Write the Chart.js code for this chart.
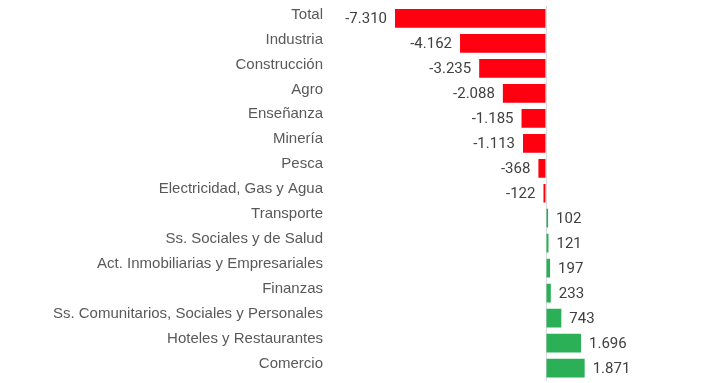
<!DOCTYPE html>
<html><head><meta charset="utf-8">
<script src="https://cdn.jsdelivr.net/npm/chart.js@4.4.1/dist/chart.umd.min.js"></script>
<style>html,body{margin:0;padding:0;background:#fff}#w{width:704px;height:383px}</style>
</head><body><div id="w"><canvas id="c"></canvas></div>
<script>
const categories = ["Total","Industria","Construcción","Agro","Enseñanza","Minería","Pesca","Electricidad, Gas y Agua","Transporte","Ss. Sociales y de Salud","Act. Inmobiliarias y Empresariales","Finanzas","Ss. Comunitarios, Sociales y Personales","Hoteles y Restaurantes","Comercio"];
const values = [-7310,-4162,-3235,-2088,-1185,-1113,-368,-122,102,121,197,233,743,1696,1871];
const fmt = v => { const s = Math.abs(v).toString().replace(/\B(?=(\d{3})+(?!\d))/g,'.'); return (v<0?'-':'')+s; };
const labelPlugin = {
  id:'vals',
  afterDatasetsDraw(chart){
    const ctx = chart.ctx; const meta = chart.getDatasetMeta(0);
    ctx.save(); ctx.font = '15px Roboto'; ctx.fillStyle = '#404040'; ctx.textBaseline='middle';
    meta.data.forEach((el,i)=>{
      const v = values[i];
      if (v<0){ ctx.textAlign='right'; ctx.fillText(fmt(v), el.x-8, el.y+1); }
      else { ctx.textAlign='left'; ctx.fillText(fmt(v), el.x+8, el.y+1); }
    });
    ctx.restore();
  }
};
new Chart(document.getElementById('c'),{
  type:'bar',
  data:{labels:categories,datasets:[{data:values,
    backgroundColor: values.map(v=>v<0?'#ff0010':'#2bb057'),
    borderWidth: 0,
    barPercentage:0.75, categoryPercentage:1}]},
  options:{
    indexAxis:'y',
    responsive:true, maintainAspectRatio:false, animation:false,
    layout:{padding:{top:6,bottom:2.5,right:0,left:0}},
    plugins:{legend:{display:false},tooltip:{enabled:false}},
    scales:{
      x:{min:-10457,max:7649,
        afterBuildTicks(s){ s.ticks=[{value:0}]; },
        afterFit(s){ s.height = 0; s.paddingLeft=0; s.paddingRight=0; s.paddingTop=0; s.paddingBottom=0; },
        ticks:{display:false},
        grid:{color:'#d9d9d9',lineWidth:1,drawTicks:false},
        border:{display:false}},
      y:{
        afterFit(s){ s.width = 330; s.paddingTop=0; s.paddingBottom=0; },
        ticks:{color:'#595959',font:{family:'Liberation Sans',size:15},padding:7,labelOffset:-4},
        grid:{display:false,drawTicks:false},
        border:{display:false}}
    }
  },
  plugins:[labelPlugin]
});
</script></body></html>
